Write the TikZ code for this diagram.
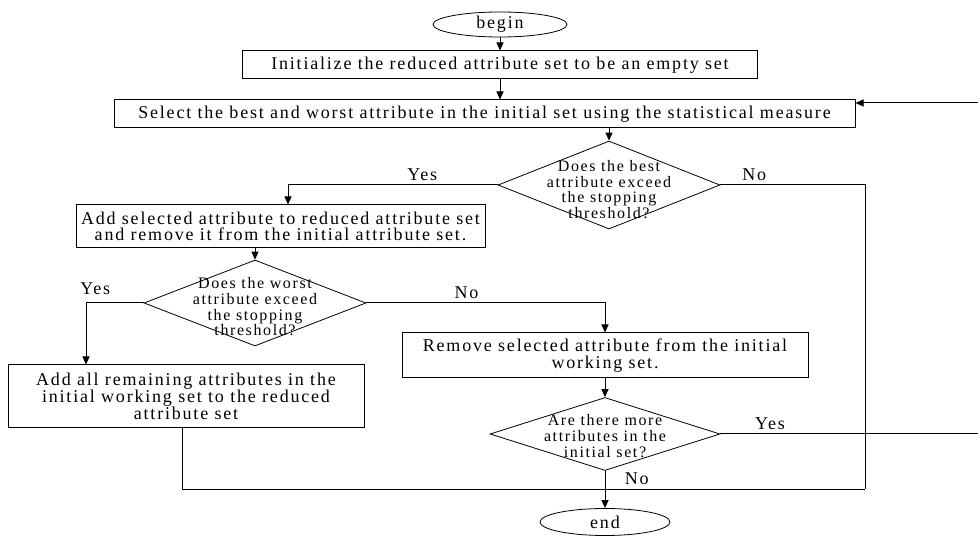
\documentclass[tikz,border=0pt]{standalone}
\usepackage{fontspec}
\setmainfont{Liberation Serif}[LetterSpace=10]
\usetikzlibrary{arrows.meta,shapes,positioning}
\tikzstyle{process} = [rectangle, draw, line width=1pt, align=center, inner sep=0pt, minimum height=28pt]
\tikzstyle{term} = [ellipse, draw, line width=0.8pt, minimum width=134pt, minimum height=25pt, inner sep=0pt]
\tikzstyle{decision} = [diamond, draw, line width=0.8pt, inner sep=0pt, minimum width=222pt, minimum height=88pt]
\tikzstyle{dtext} = [align=center, inner sep=0pt, font=\fontsize{16}{15.7}\selectfont]
\tikzstyle{line} = [draw, line width=1pt, -{Triangle[length=8pt,width=7pt]}]

\begin{document}
\begin{tikzpicture}[x=1pt, y=1pt, font=\fontsize{18}{16.7}\selectfont]
        \useasboundingbox (0,0) rectangle (978,-537);

        \node[term] (begin) at (500,-24.5) {begin};
        \node[process, minimum width=515pt, below of=begin, node distance=40.5pt] (init) {Initialize the reduced attribute set to be an empty set};
        \node[process, minimum width=741pt, below of=init, node distance=49pt, xshift=-15.5pt] (select) {Select the best and worst attribute in the initial set using the statistical measure};
        \node[decision, below of=select, node distance=71pt, xshift=124.5pt] (best) {};
        \node[process, minimum width=409pt, minimum height=43pt, below of=best, node distance=41.5pt, xshift=-328.5pt] (add) {Add selected attribute to reduced attribute set\\and remove it from the initial attribute set.};
        \node[decision, minimum height=86pt, below of=add, node distance=76.5pt, xshift=-25.5pt] (worst) {};
        \node[process, minimum width=356pt, minimum height=63pt, below of=worst, node distance=93.5pt, xshift=-69pt] (addall) {Add all remaining attributes in the\\initial working set to the reduced\\attribute set};
        \node[process, minimum width=406pt, minimum height=45pt, below of=worst, node distance=52.5pt, xshift=350pt] (remove) {Remove selected attribute from the initial\\working set.};
        \node[decision, minimum width=230pt, minimum height=73pt, below of=remove, node distance=78.5pt] (are) {};
        \node[term, minimum width=130pt, minimum height=27pt, below of=are, node distance=88pt] (end) {end};

        \node[dtext] (besttext) at ([yshift=-4.5pt]best.center) {Does the best\\attribute exceed\\the stopping\\threshold?};
        \node[dtext] (worsttext) at ([yshift=-4pt]worst.center) {Does the worst\\attribute exceed\\the stopping\\threshold?};
        \node[dtext] (aretext) at ([yshift=-2pt]are.center) {Are there more\\attributes in the\\initial set?};

        \coordinate (ljoin) at (182,-489);
        \coordinate (rjoin) at (865,-489);
        \coordinate (rloop) at (981,-103);

        \draw[line] (begin) -- (init);
        \draw[line] (init.south) -- (init.south |- select.north);
        \draw[line] (select.south -| best.north) -- (best.north);
        \draw[line] (best.west) -| ([xshift=7.5pt]add.north) node[pos=0.18, above] {Yes};
        \draw[line width=1pt] (best.east) -| (rjoin) node[pos=0.117, above] {No};
        \draw[line] (add.south -| worst.north) -- (worst.north);
        \draw[line] (worst.west) -| ([xshift=-100pt]addall.north) node[pos=0.42, above=4pt] {Yes};
        \draw[line] (worst.east) -| (remove.north) node[pos=0.21, above] {No};
        \draw[line] (remove) -- (are);
        \draw[line] (are) -- (end) node[pos=0.2, right=16pt] {No};
        \draw[line] (are.east) -- (are.east -| rloop) node[pos=0.19, above] {Yes} -- (rloop) -- (select.east |- rloop);
        \draw[line width=1pt] (ljoin |- addall.south) -- (ljoin) -- (rjoin);
    \end{tikzpicture}
\end{document}
